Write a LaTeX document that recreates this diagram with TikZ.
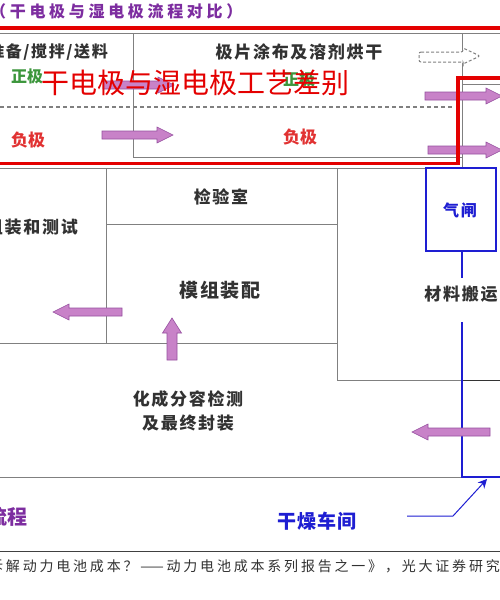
\documentclass[tikz,border=0pt]{standalone}
\usepackage{fontspec}
\usetikzlibrary{arrows.meta}
\newfontfamily\cjk{Noto Sans CJK SC}
\newfontfamily\cjkls[LetterSpace=10]{Noto Sans CJK SC}
\newfontfamily\cjkblue[LetterSpace=6]{Noto Sans CJK SC}
\newfontfamily\cjktitle[LetterSpace=23]{Noto Sans CJK SC}
\newfontfamily\cjksrc[LetterSpace=20]{Noto Sans CJK SC}
\definecolor{linegray}{RGB}{128,128,128}
\definecolor{textgray}{RGB}{50,50,50}
\definecolor{myred}{RGB}{228,0,0}
\definecolor{myblue}{RGB}{30,30,210}
\definecolor{arrowfill}{RGB}{200,130,200}
\definecolor{arrowedge}{RGB}{150,80,160}
\definecolor{titlepurple}{RGB}{125,45,160}
\definecolor{mygreen}{RGB}{60,150,60}
\definecolor{negred}{RGB}{225,50,50}
\newcommand{\HArrow}[3]{%
  \pgfmathsetmacro\hb{#2-sign(#2-#1)*16}%
  \path[parrow] (#1,#3-4) -- (\hb,#3-4) -- (\hb,#3-8) -- (#2,#3) -- (\hb,#3+8) -- (\hb,#3+4) -- (#1,#3+4) -- cycle;}
\tikzset{
  gline/.style={draw=linegray, line width=1pt},
  bline/.style={draw=myblue, line width=2pt},
  redline/.style={draw=myred, line width=3.5pt},
  parrow/.style={fill=arrowfill, draw=arrowedge, line width=0.6pt},
  lbl/.style={text=textgray, inner sep=0pt, font=\cjkls\bfseries\fontsize{17}{19}\selectfont},
}
\begin{document}
\begin{tikzpicture}[x=1pt,y=-1pt]
\useasboundingbox (0,0) rectangle (500,600);
\clip (0,0) rectangle (500,600);
\fill[white] (0,0) rectangle (500,600);

% title
\node[anchor=west, inner sep=0pt, text=titlepurple, font=\cjktitle\bfseries\fontsize{16}{18}\selectfont] (title) at (-10,11) {（干电极与湿电极流程对比）};

% top section gray structure
\draw[gline] (0,33) -- (500,33);
\draw[gline] (133,33) -- (133,157) -- (462,157);
\draw[gline] (462,33) -- (462,168);
\draw[gline] (462,84) -- (500,84);
\draw[linegray, line width=1.3pt, dash pattern=on 4pt off 3pt] (0,107) -- (454,107);
\draw[linegray, line width=1pt, dash pattern=on 3pt off 2pt, fill=white, rounded corners=2pt]
  (419,52) -- (463,52) -- (463,48) -- (480,56) -- (463,64) -- (463,62) -- (419,62) -- cycle;

% middle section gray structure
\draw[gline] (0,168) -- (462,168);
\draw[gline] (106,168) -- (106,343);
\draw[gline] (106,224) -- (337,224);
\draw[gline] (337,168) -- (337,380) -- (462,380);
\draw[draw=black!80, line width=1pt] (462,380) -- (500,380);
\draw[gline] (0,343) -- (337,343);
\draw[gline] (0,477) -- (462,477);
\draw[draw=black!75, line width=0.9pt] (0,551) -- (500,551);

% texts top
\node[lbl, anchor=east, font=\cjkls\bfseries\fontsize{16}{18}\selectfont] (prep) at (108,52) {准备/搅拌/送料};
\node[lbl] (coat) at (299,52) {极片涂布及溶剂烘干};
\node[lbl, text=mygreen, font=\cjk\bfseries\fontsize{16}{18}\selectfont] (pos1) at (27,76) {正极};
\node[lbl, text=mygreen, font=\cjk\bfseries\fontsize{16}{18}\selectfont] (pos2) at (299,79) {正极};
\node[lbl, text=negred, font=\cjk\bfseries\fontsize{17}{19}\selectfont] (neg1) at (28,140) {负极};
\node[lbl, text=negred, font=\cjk\bfseries\fontsize{17}{19}\selectfont] (neg2) at (300,137) {负极};

% purple arrows top
\HArrow{103}{174}{85}
\HArrow{102}{173}{135}
\HArrow{425}{502}{96}
\HArrow{428}{502}{150}

% big red overlay text
\node[anchor=west, inner sep=0pt, text=myred, font=\cjk\fontsize{28}{30}\selectfont] (diff) at (41,83) {干电极与湿电极工艺差别};

% red outline
\draw[redline] (0,28) -- (500,28);
\draw[redline] (0,163.5) -- (458,163.5) -- (458,78) -- (500,78);

% middle texts
\node[lbl] (lab) at (221,197) {检验室};
\node[lbl, anchor=east] (assy) at (78,227) {组装和测试};
\node[lbl, font=\cjkls\bfseries\fontsize{19}{21}\selectfont] (module) at (220,290) {模组装配};
\node[lbl] (move) at (461,294) {材料搬运};
\node[lbl, align=center, font=\cjkls\bfseries\fontsize{17}{24}\selectfont] (form) at (188,411) {化成分容检测\\及最终封装};

% blue structure
\node[draw=myblue, line width=2pt, minimum width=70pt, minimum height=83pt, inner sep=0pt] (air) at (460.5,209.5) {};
\node[text=myblue, inner sep=0pt, font=\cjkls\bfseries\fontsize{16}{18}\selectfont] (airtxt) at (460,210) {气闸};
\coordinate (b1) at (462,278);
\coordinate (b2) at (462,322);
\coordinate (b3) at (462,477);
\coordinate (b4) at (502,477);
\draw[bline] (air.south -| b1) -- (b1);
\draw[bline] (b2) -- (b3) -- (b4);

% middle purple arrows
\HArrow{122}{53}{312}
\path[parrow] (167,360) -- (167,333) -- (162.5,333) -- (172,318) -- (181.5,333) -- (177,333) -- (177,360) -- cycle;
\HArrow{490}{412}{432}

% bottom texts
\node[anchor=east, inner sep=0pt, text=titlepurple, font=\cjk\bfseries\fontsize{20}{22}\selectfont] (flow) at (28,517) {流程};
\node[inner sep=0pt, text=myblue, font=\cjkblue\bfseries\fontsize{19}{21}\selectfont] (dry) at (317,521) {干燥车间};
\coordinate (p1) at (407,516);
\coordinate (p2) at (453,516);
\coordinate (p3) at (487,479);
\draw[myblue, line width=1pt, -{Stealth[length=9pt,width=9pt]}] (p1) -- (p2) -- (p3);

% source
\node[anchor=west, inner sep=0pt, text=textgray, font=\cjksrc\fontsize{14}{16}\selectfont] (src) at (-11,566) {拆解动力电池成本？——动力电池成本系列报告之一》，光大证券研究};
\end{tikzpicture}
\end{document}
